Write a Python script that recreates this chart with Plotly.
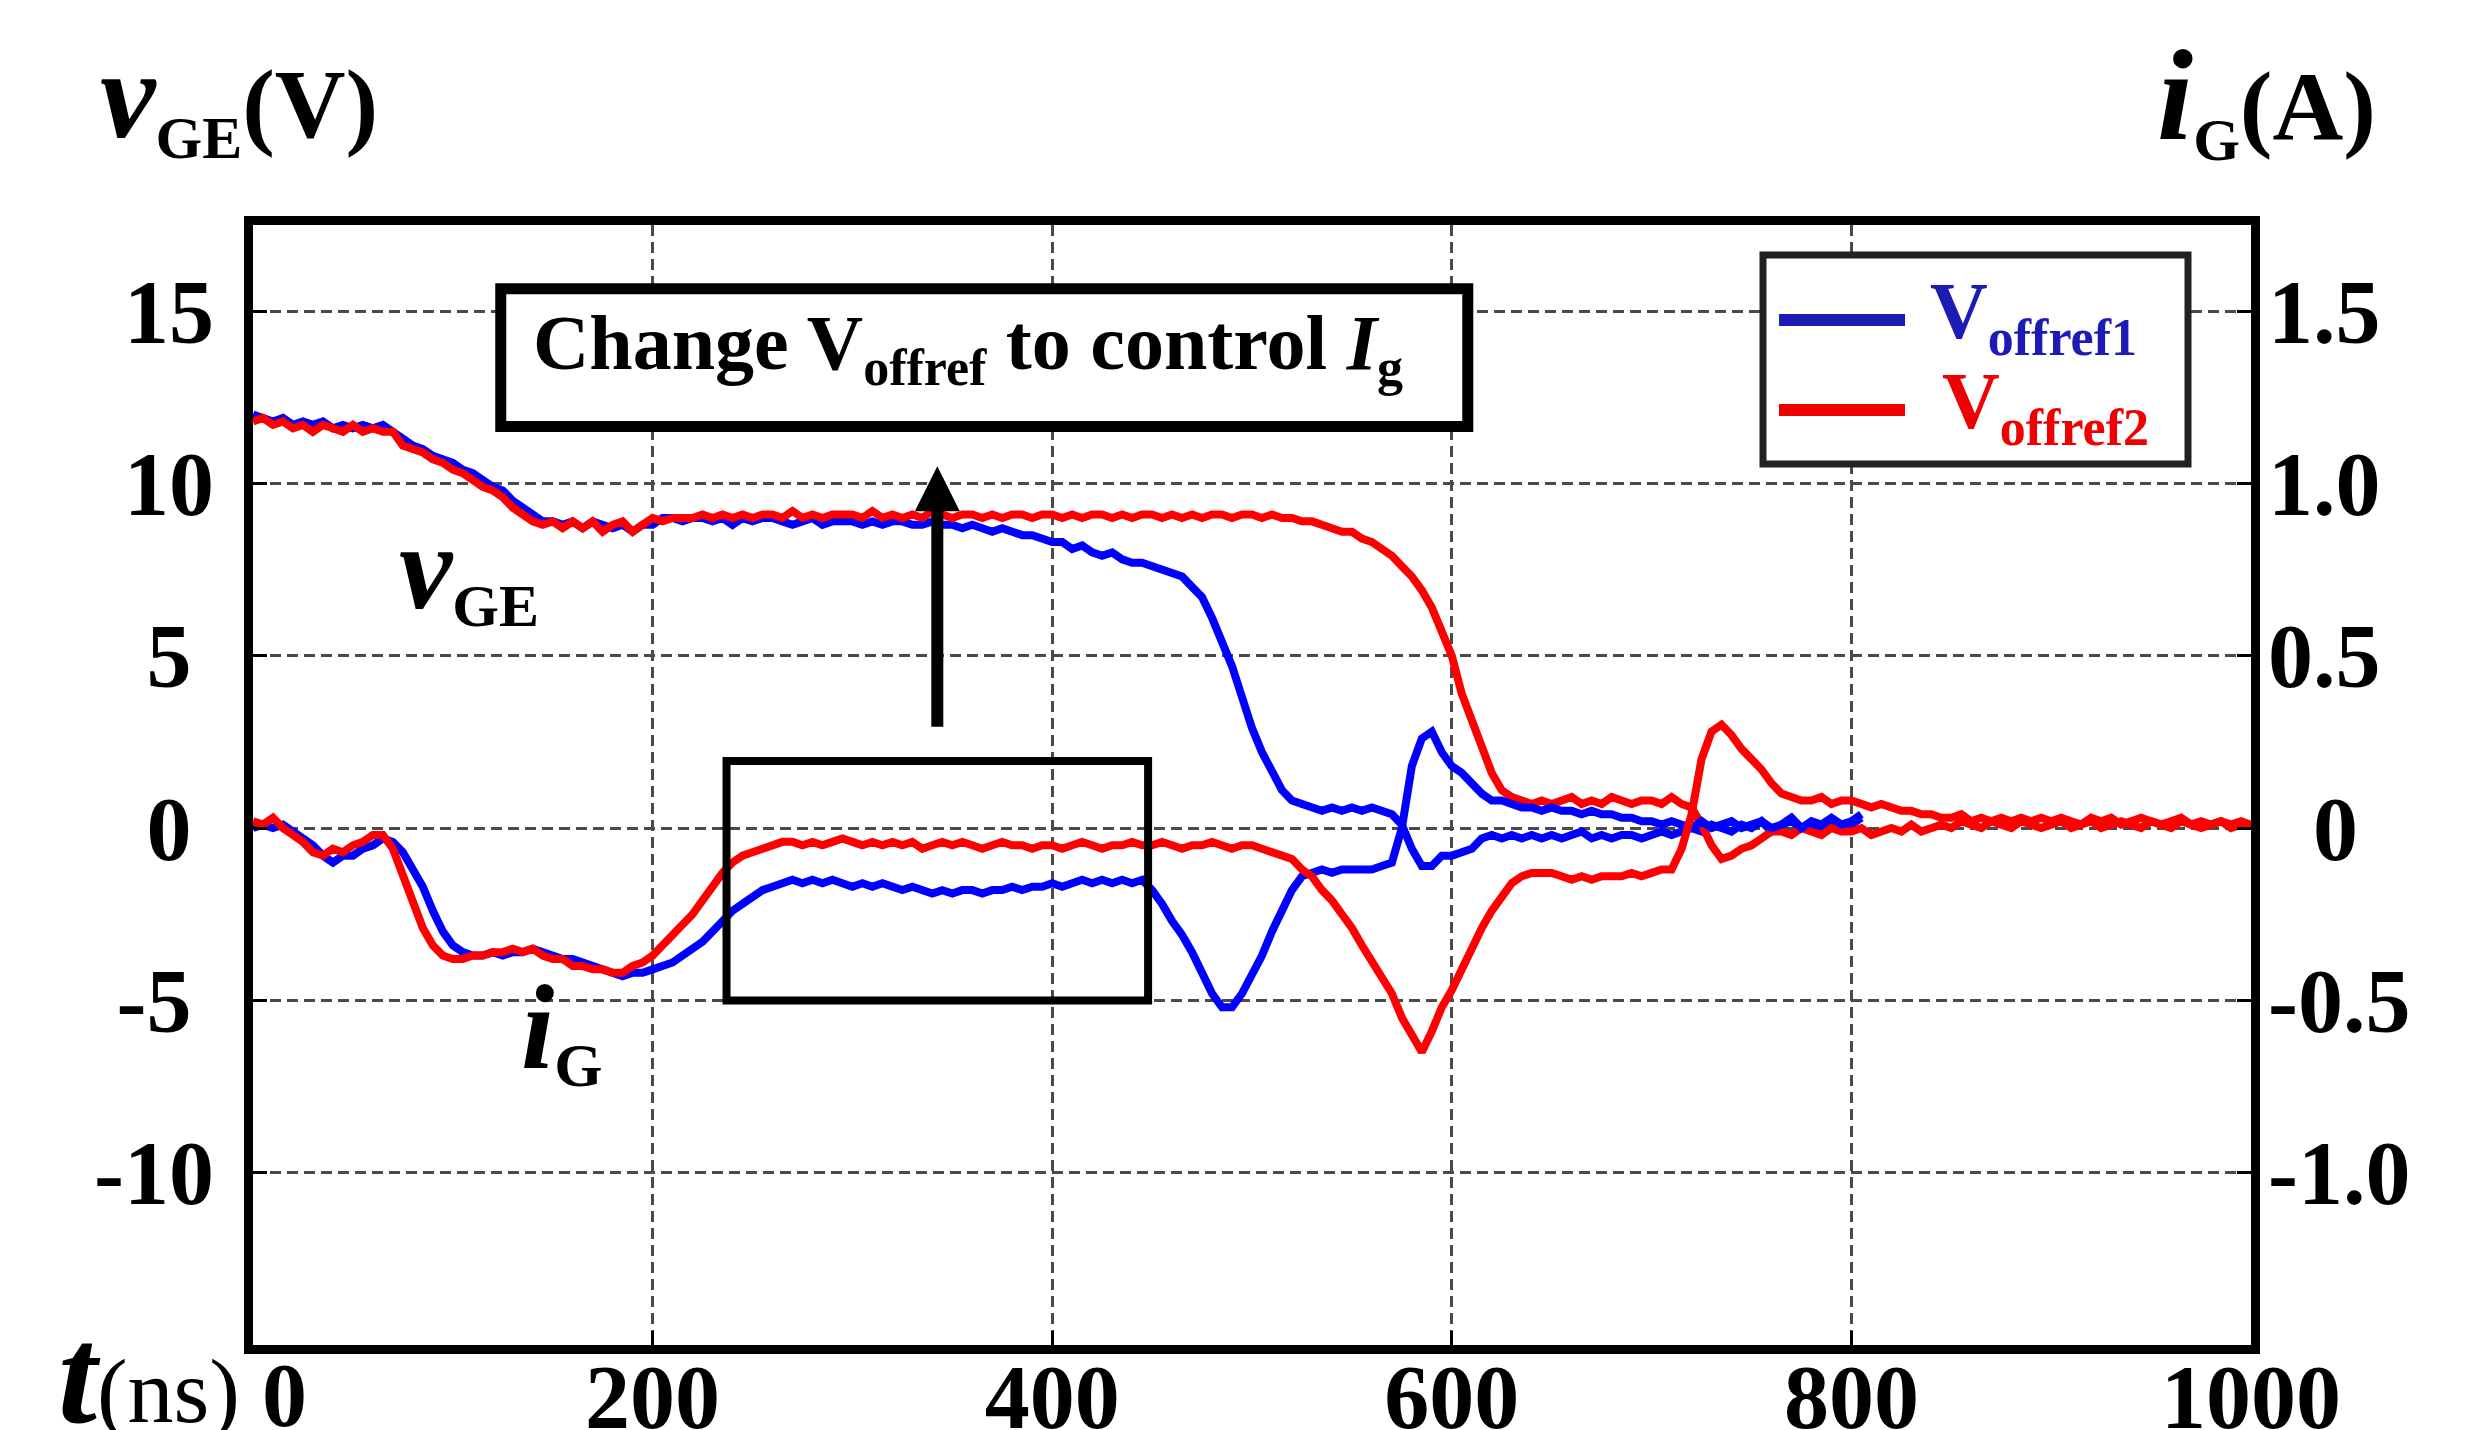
import plotly.graph_objects as go

# sampling times of the scope traces (ns)
t_ns = list(range(0, 1001, 5))

# V_offref1 (blue) - gate-emitter voltage (V), 0..805 ns
vge_1 = [
    12.0, 11.9, 11.8, 11.9, 11.7, 11.8, 11.7, 11.8, 11.6, 11.7,
    11.6, 11.7, 11.6, 11.7, 11.5, 11.3, 11.1, 11.0, 10.8, 10.7,
    10.6, 10.4, 10.3, 10.1, 9.9, 9.8, 9.5, 9.3, 9.1, 8.9,
    8.9, 8.8, 8.9, 8.7, 8.9, 8.8, 8.7, 8.8, 8.6, 8.8,
    8.8, 9.0, 9.0, 8.9, 9.0, 9.0, 8.9, 9.0, 8.8, 9.0,
    8.9, 9.0, 9.0, 8.9, 8.8, 8.9, 9.0, 8.8, 8.9, 8.9,
    8.9, 8.8, 8.9, 8.8, 8.9, 8.9, 8.8, 8.8, 8.9, 8.8,
    8.8, 8.7, 8.8, 8.7, 8.6, 8.7, 8.6, 8.5, 8.5, 8.4,
    8.3, 8.3, 8.1, 8.2, 8.0, 7.9, 8.0, 7.8, 7.7, 7.7,
    7.6, 7.5, 7.4, 7.3, 7.0, 6.7, 6.1, 5.4, 4.7, 3.8,
    2.9, 2.2, 1.6, 1.1, 0.8, 0.7, 0.6, 0.5, 0.6, 0.5,
    0.6, 0.5, 0.6, 0.5, 0.4, 0.1, -0.6, -1.1, -1.1, -0.8,
    -0.8, -0.7, -0.6, -0.3, -0.2, -0.3, -0.2, -0.3, -0.2, -0.3,
    -0.2, -0.3, -0.2, -0.1, -0.3, -0.2, -0.3, -0.2, -0.2, -0.3,
    -0.2, -0.1, -0.2, -0.1, 0.0, -0.1, 0.1, 0.0, -0.1, 0.1,
    0.0, 0.2, -0.1, 0.1, 0.2, 0.0, 0.1, -0.1, 0.2, 0.0,
    0.1, 0.3,
]

# V_offref1 (blue) - gate current (A), 0..805 ns
ig_1 = [
    0.00, 0.01, 0.00, 0.01, -0.01, -0.03, -0.05, -0.08, -0.10, -0.08,
    -0.08, -0.06, -0.05, -0.03, -0.04, -0.07, -0.12, -0.17, -0.24, -0.30,
    -0.34, -0.36, -0.37, -0.37, -0.36, -0.37, -0.36, -0.36, -0.35, -0.36,
    -0.37, -0.38, -0.38, -0.39, -0.40, -0.41, -0.42, -0.43, -0.42, -0.42,
    -0.41, -0.40, -0.39, -0.37, -0.35, -0.33, -0.30, -0.27, -0.24, -0.22,
    -0.20, -0.18, -0.17, -0.16, -0.15, -0.16, -0.15, -0.16, -0.15, -0.16,
    -0.17, -0.16, -0.17, -0.16, -0.17, -0.18, -0.17, -0.18, -0.19, -0.18,
    -0.19, -0.18, -0.18, -0.19, -0.18, -0.18, -0.17, -0.18, -0.17, -0.17,
    -0.16, -0.17, -0.16, -0.15, -0.16, -0.15, -0.16, -0.15, -0.16, -0.15,
    -0.18, -0.22, -0.27, -0.31, -0.36, -0.42, -0.48, -0.52, -0.52, -0.48,
    -0.43, -0.37, -0.30, -0.24, -0.18, -0.14, -0.13, -0.12, -0.13, -0.12,
    -0.12, -0.12, -0.12, -0.11, -0.10, 0.00, 0.18, 0.26, 0.28, 0.22,
    0.18, 0.16, 0.13, 0.10, 0.08, 0.08, 0.07, 0.06, 0.06, 0.05,
    0.06, 0.05, 0.05, 0.04, 0.05, 0.04, 0.04, 0.03, 0.03, 0.02,
    0.02, 0.01, 0.02, 0.01, 0.00, 0.02, 0.00, 0.01, 0.02, 0.00,
    0.01, 0.02, 0.00, 0.01, 0.03, 0.00, 0.02, 0.01, 0.03, 0.01,
    0.02, 0.04,
]

# V_offref2 (red) - gate-emitter voltage (V), 0..1000 ns
vge_2 = [
    11.8, 11.9, 11.7, 11.8, 11.6, 11.7, 11.5, 11.7, 11.6, 11.5,
    11.7, 11.5, 11.6, 11.5, 11.5, 11.1, 11.0, 10.9, 10.7, 10.6,
    10.4, 10.3, 10.1, 9.9, 9.8, 9.6, 9.3, 9.1, 8.9, 8.8,
    8.9, 8.7, 8.9, 8.7, 8.9, 8.6, 8.8, 8.9, 8.6, 8.8,
    9.0, 8.9, 9.0, 9.0, 9.0, 9.1, 9.0, 9.1, 9.0, 9.1,
    9.0, 9.1, 9.1, 9.0, 9.2, 9.0, 9.1, 9.0, 9.1, 9.1,
    9.1, 9.0, 9.2, 9.0, 9.1, 9.0, 9.1, 9.0, 9.2, 9.1,
    9.0, 9.1, 9.1, 9.0, 9.1, 9.0, 9.1, 9.1, 9.0, 9.1,
    9.1, 9.0, 9.1, 9.0, 9.1, 9.1, 9.0, 9.1, 9.0, 9.1,
    9.1, 9.0, 9.1, 9.0, 9.1, 9.0, 9.1, 9.1, 9.0, 9.1,
    9.1, 9.0, 9.1, 9.0, 9.0, 8.9, 8.9, 8.8, 8.7, 8.6,
    8.6, 8.4, 8.3, 8.1, 7.9, 7.6, 7.3, 6.9, 6.4, 5.7,
    5.0, 3.9, 3.1, 2.3, 1.6, 1.1, 0.9, 0.8, 0.7, 0.8,
    0.7, 0.8, 0.9, 0.7, 0.8, 0.7, 0.9, 0.8, 0.7, 0.8,
    0.8, 0.7, 0.9, 0.7, 0.6, 0.1, -0.5, -0.9, -0.8, -0.6,
    -0.5, -0.3, -0.1, -0.1, -0.2, 0.0, -0.1, -0.2, 0.0, -0.1,
    -0.1, 0.0, -0.2, -0.1, 0.0, -0.1, 0.1, -0.1, 0.0, 0.1,
    0.0, 0.2, 0.1, 0.0, 0.2, 0.1, 0.0, 0.2, 0.1, 0.0,
    0.1, 0.2, 0.0, 0.1, 0.2, 0.0, 0.1, 0.2, 0.1, 0.0,
    0.2, 0.1, 0.0, 0.2, 0.1, 0.0, 0.1, 0.2, 0.0, 0.1,
    0.1,
]

# V_offref2 (red) - gate current (A), 0..1000 ns
ig_2 = [
    0.02, 0.01, 0.03, 0.00, -0.02, -0.04, -0.07, -0.08, -0.06, -0.07,
    -0.05, -0.04, -0.02, -0.02, -0.06, -0.14, -0.22, -0.29, -0.34, -0.37,
    -0.38, -0.38, -0.37, -0.37, -0.36, -0.36, -0.35, -0.36, -0.35, -0.37,
    -0.38, -0.38, -0.40, -0.40, -0.41, -0.41, -0.42, -0.42, -0.40, -0.39,
    -0.37, -0.34, -0.31, -0.28, -0.25, -0.21, -0.17, -0.13, -0.10, -0.08,
    -0.07, -0.06, -0.05, -0.04, -0.04, -0.05, -0.04, -0.05, -0.04, -0.03,
    -0.04, -0.05, -0.04, -0.05, -0.04, -0.05, -0.04, -0.06, -0.05, -0.04,
    -0.05, -0.04, -0.05, -0.06, -0.05, -0.04, -0.05, -0.05, -0.06, -0.05,
    -0.05, -0.06, -0.05, -0.04, -0.05, -0.06, -0.05, -0.05, -0.04, -0.05,
    -0.05, -0.04, -0.05, -0.06, -0.05, -0.05, -0.04, -0.05, -0.06, -0.05,
    -0.05, -0.06, -0.07, -0.08, -0.09, -0.12, -0.14, -0.18, -0.21, -0.25,
    -0.29, -0.34, -0.39, -0.43, -0.48, -0.55, -0.60, -0.65, -0.59, -0.52,
    -0.47, -0.41, -0.34, -0.29, -0.24, -0.20, -0.16, -0.14, -0.13, -0.13,
    -0.13, -0.14, -0.15, -0.14, -0.15, -0.14, -0.14, -0.14, -0.13, -0.14,
    -0.13, -0.12, -0.12, -0.06, 0.04, 0.20, 0.28, 0.30, 0.27, 0.23,
    0.20, 0.17, 0.13, 0.10, 0.09, 0.08, 0.08, 0.09, 0.07, 0.08,
    0.08, 0.07, 0.06, 0.07, 0.06, 0.05, 0.05, 0.04, 0.04, 0.03,
    0.03, 0.04, 0.02, 0.03, 0.02, 0.03, 0.02, 0.03, 0.02, 0.03,
    0.02, 0.03, 0.02, 0.01, 0.03, 0.02, 0.03, 0.01, 0.02, 0.03,
    0.02, 0.01, 0.02, 0.03, 0.01, 0.02, 0.01, 0.02, 0.01, 0.02,
    0.01,
]

NB = "\u00a0"
t_ticks = [200, 400, 600, 800, 1000]
t_tick_text = ["200", "400", "600", "800", "1000"]
v_ticks = [-10, -5, 0, 5, 10, 15]
v_tick_text = ["-10", "-5" + NB, "0" + NB, "5" + NB, "10", "15"]
i_ticks = [-1.0, -0.5, 0, 0.5, 1.0, 1.5]
i_tick_text = ["-1.0", "-0.5", NB + NB + "0", "0.5", "1.0", "1.5"]

FONT = "Liberation Serif, Times New Roman, serif"
BLUE = "#0000ff"
RED = "#ff0000"
LEG_BLUE = "#1c1cb4"
LEG_RED = "#f00000"

# plot area in page pixels, used to place the text outside the axes
L, R, T, B = 245, 2243, 217, 1337


def px(x):
    return (x - L) / (R - L)


def py(y):
    return (B - y) / (B - T)


t_1 = t_ns[:len(vge_1)]

fig = go.Figure()
fig.add_trace(go.Scatter(x=t_1, y=vge_1, mode="lines", name="vGE offref1",
                         line=dict(color=BLUE, width=8)))
fig.add_trace(go.Scatter(x=t_ns, y=vge_2, mode="lines", name="vGE offref2",
                         line=dict(color=RED, width=8)))
fig.add_trace(go.Scatter(x=t_1, y=ig_1, mode="lines", name="iG offref1", yaxis="y2",
                         line=dict(color=BLUE, width=8)))
fig.add_trace(go.Scatter(x=t_ns, y=ig_2, mode="lines", name="iG offref2", yaxis="y2",
                         line=dict(color=RED, width=8)))

bold = dict(family=FONT, size=90, color="black", weight="bold")
grid = dict(showgrid=True, gridcolor="#4a4a4a", gridwidth=2.5, griddash="11px,6px")

fig.update_layout(
    width=2468, height=1430,
    margin=dict(l=L, r=2468 - R, t=T, b=1430 - B, autoexpand=False),
    paper_bgcolor="white", plot_bgcolor="white",
    showlegend=False,
    font=dict(family=FONT, size=90, color="black"),
    xaxis=dict(range=[0, 1000], tickvals=t_ticks, ticktext=t_tick_text, tickfont=bold,
               showline=True, linecolor="black", linewidth=9, mirror=True,
               ticks="inside", ticklen=14, tickwidth=3, tickcolor="black",
               zeroline=False, ticklabelstandoff=-34, automargin=False, **grid),
    yaxis=dict(range=[-15, 17.5], tickvals=v_ticks, ticktext=v_tick_text, tickfont=bold,
               showline=True, linecolor="black", linewidth=9, mirror=True,
               ticks="inside", ticklen=14, tickwidth=3, tickcolor="black",
               zeroline=False, ticklabelstandoff=12, automargin=False, **grid),
    yaxis2=dict(range=[-1.5, 1.75], overlaying="y", side="right",
                tickvals=i_ticks, ticktext=i_tick_text, tickfont=bold,
                showgrid=False, zeroline=False, showline=False,
                ticks="inside", ticklen=14, tickwidth=3, tickcolor="black",
                ticklabelstandoff=16, automargin=False),
)

# annotation boxes
fig.add_shape(type="rect", xref="x", yref="y", x0=124, x1=608, y0=11.65, y1=15.65,
              line=dict(color="black", width=11), fillcolor="white", layer="above")
fig.add_shape(type="rect", xref="x", yref="y", x0=237, x1=448, y0=-5.0, y1=1.95,
              line=dict(color="black", width=8), fillcolor="rgba(0,0,0,0)", layer="above")

# legend box drawn by hand
fig.add_shape(type="rect", xref="paper", yref="paper", x0=px(1755), x1=px(2180),
              y0=py(456), y1=py(247), line=dict(color="#222222", width=7),
              fillcolor="white", layer="above")
fig.add_shape(type="line", xref="paper", yref="paper", x0=px(1771), x1=px(1897),
              y0=py(312), y1=py(312), line=dict(color=LEG_BLUE, width=12))
fig.add_shape(type="line", xref="paper", yref="paper", x0=px(1771), x1=px(1897),
              y0=py(402), y1=py(402), line=dict(color=LEG_RED, width=12))

sub = "<sub><span style='font-size:52px'>{}</span></sub>"

notes = [
    # legend labels
    dict(xref="paper", yref="paper", x=px(1920), y=py(308), xanchor="left", yanchor="middle",
         text="V" + sub.format("offref1"),
         font=dict(family=FONT, size=80, color=LEG_BLUE, weight="bold")),
    dict(xref="paper", yref="paper", x=px(1932), y=py(398), xanchor="left", yanchor="middle",
         text="V" + sub.format("offref2"),
         font=dict(family=FONT, size=80, color=LEG_RED, weight="bold")),
    # boxed caption
    dict(xref="x", yref="y", x=358, y=13.95, xanchor="center", yanchor="middle",
         text="Change V" + sub.format("offref") + " to control <i>I</i>" + sub.format("g"),
         font=dict(family=FONT, size=78, color="black", weight="bold")),
    # curve labels
    dict(xref="x", yref="y", x=72, y=7.5, xanchor="left", yanchor="middle",
         text="<span style='font-size:120px'><i>v</i></span><sub><span style='font-size:60px'>GE</span></sub>",
         font=dict(family=FONT, size=86, color="black", weight="bold")),
    dict(xref="x", yref="y", x=133, y=-5.85, xanchor="left", yanchor="middle",
         text="<span style='font-size:120px'><i>i</i></span><sub><span style='font-size:62px'>G</span></sub>",
         font=dict(family=FONT, size=86, color="black", weight="bold")),
    # axis titles
    dict(xref="paper", yref="paper", x=px(90), y=py(90), xanchor="left", yanchor="middle",
         text="<span style='font-size:125px'><i>v</i></span><sub><span style='font-size:60px'>GE</span></sub>(V)",
         font=dict(family=FONT, size=98, color="black", weight="bold")),
    dict(xref="paper", yref="paper", x=px(2370), y=py(90), xanchor="right", yanchor="middle",
         text="<span style='font-size:130px'><i>i</i></span><sub><span style='font-size:60px'>G</span></sub>(A)",
         font=dict(family=FONT, size=98, color="black", weight="bold")),
    dict(xref="paper", yref="paper", x=px(48), y=py(1366), xanchor="left", yanchor="middle",
         text="<span style='font-size:140px'><b><i>t</i></b></span>(ns)",
         font=dict(family=FONT, size=92, color="black")),
]
for n in notes:
    fig.add_annotation(showarrow=False, **n)

# first x tick label sits right of the origin, at the same height as the others
fig.add_annotation(xref="x", yref="paper", x=0, y=py(1336), xanchor="center", yanchor="top",
                   xshift=31, text="0", font=bold, showarrow=False)

# arrow from the small box up to the caption
fig.add_annotation(xref="x", yref="y", x=342.5, y=10.5, axref="x", ayref="y",
                   ax=342.5, ay=2.9, text="", showarrow=True, arrowhead=2,
                   arrowsize=0.75, arrowwidth=12, arrowcolor="black", standoff=0)

fig.write_html("out.html")
